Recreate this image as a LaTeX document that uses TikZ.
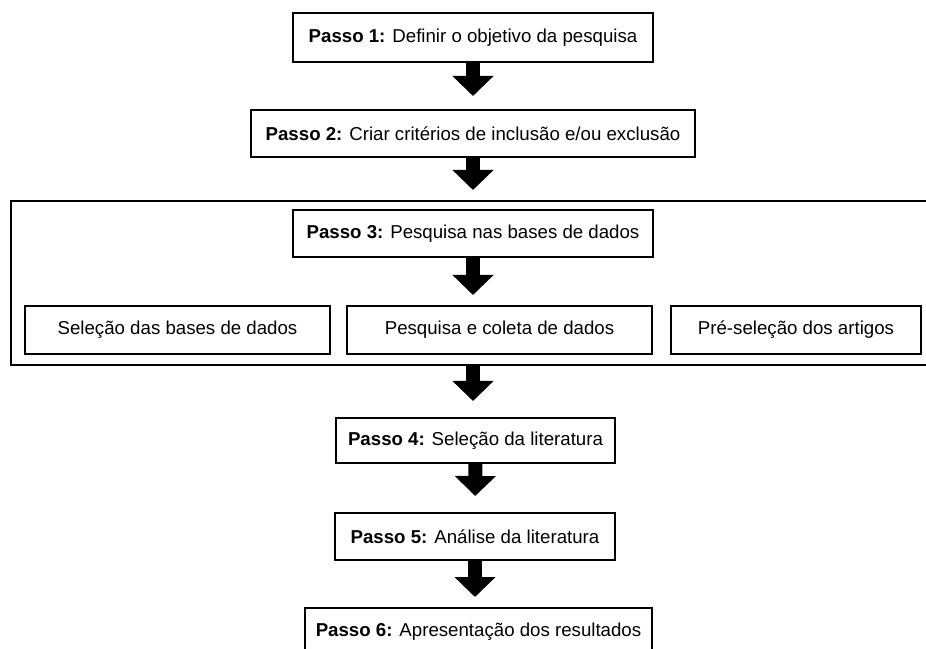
\documentclass[tikz,border=0pt]{standalone}
\usepackage{fontspec}
\setmainfont{Liberation Sans}
\usetikzlibrary{arrows.meta}

\begin{document}
\begin{tikzpicture}[x=0.75pt,y=-0.75pt]
	\useasboundingbox (0,0) rectangle (926,649);
	\clip (0,0) rectangle (926,649);
	\begin{scope}[every node/.style={draw=black, line width=1.5pt, inner sep=0pt, minimum height=35.25pt, font=\fontsize{14}{16}\selectfont}]
		\node[minimum width=270pt, minimum height=36.75pt] (p1) at (473,37.5) {\textbf{Passo 1:} Definir o objetivo da pesquisa};
		\node[minimum width=333pt] (p2) at (473,133.5) {\textbf{Passo 2:} Criar critérios de inclusão e/ou exclusão};
		\node[minimum width=693.75pt, minimum height=123pt] (frame) at (473.5,283) {};
		\node[minimum width=270pt] (p3) at (473,233.5) {\textbf{Passo 3:} Pesquisa nas bases de dados};
		\node[minimum width=228.75pt, minimum height=36pt] (sa) at (177.5,330) {Seleção das bases de dados};
		\node[minimum width=228.75pt, minimum height=36pt] (sb) at (499.5,330) {Pesquisa e coleta de dados};
		\node[minimum width=187.5pt, minimum height=36pt] (sc) at (796,330) {Pré-seleção dos artigos};
		\node[minimum width=209.25pt, minimum height=33.75pt] (p4) at (475.5,440.5) {\textbf{Passo 4:} Seleção da literatura};
		\node[minimum width=210pt] (p5) at (475,536.5) {\textbf{Passo 5:} Análise da literatura};
		\node[minimum width=260.25pt] (p6) at (478.5,631.5) {\textbf{Passo 6:} Apresentação dos resultados};
	\end{scope}
	\begin{scope}[every edge/.style={draw=black, line width=10.5pt, -{Triangle[width=30pt,length=15pt]}, shorten >=7.5pt}]
		\path (p1) edge[shorten >=9.75pt] (p2);
		\path (p2) edge (p2.south |- frame.north);
		\path (p3) edge (p3.south |- sb.north);
		\path (frame.south -| p3) edge[shorten >=12pt] (p3.south |- p4.north);
		\path (p4) edge[shorten >=12pt] (p5);
		\path (p5) edge (p5.south |- p6.north);
	\end{scope}
\end{tikzpicture}
\end{document}
